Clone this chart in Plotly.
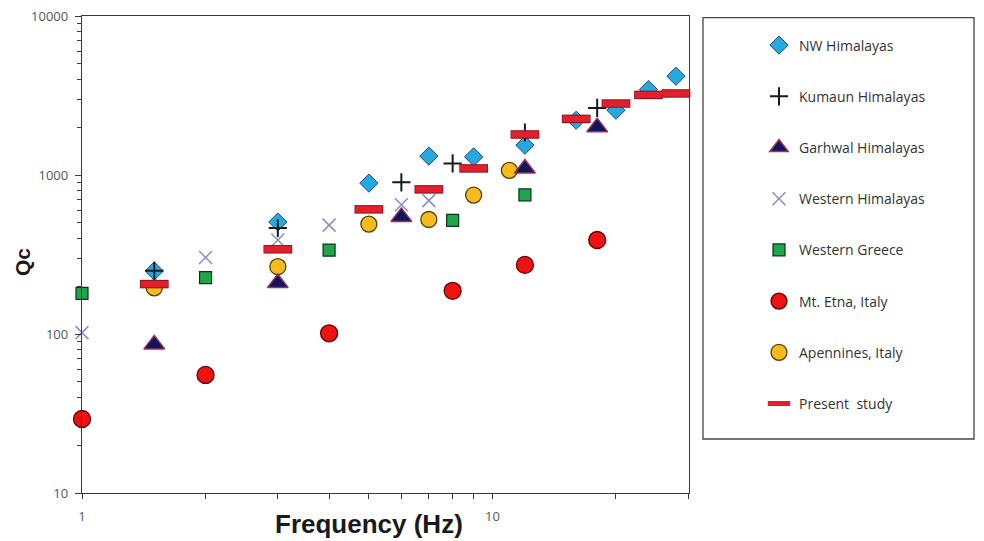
import plotly.graph_objects as go

# ---------------- data ----------------
nw_f = [1.5, 3, 5, 7, 9, 12, 16, 20, 24, 28]
nw_q = [249, 506, 889, 1314, 1300, 1540, 2210, 2555, 3450, 4180]

kum_f = [1.5, 3, 6, 8, 12, 18]
kum_q = [250, 464, 899, 1183, 1850, 2643]

gar_f = [1.5, 3, 6, 12, 18]
gar_q = [86, 209, 545, 1100, 2000]

wh_f = [1, 2, 3, 4, 6, 7]
wh_q = [102, 303, 390, 484, 650, 690]

gr_f = [1, 2, 4, 8, 12]
gr_q = [180, 226, 337, 518, 750]

etna_f = [1, 2, 4, 8, 12, 18]
etna_q = [29.2, 55.3, 101, 187, 272, 390]

ap_f = [1.5, 3, 5, 7, 9, 11]
ap_q = [195, 265, 491, 525, 748, 1070]

ps_f = [1.5, 3, 5, 7, 9, 12, 16, 20, 24, 28]
ps_q = [206, 341, 608, 812, 1100, 1798, 2254, 2815, 3190, 3258]

x_major = [1, 10]
x_major_text = ["1", "10"]
x_minor = [2, 3, 4, 5, 6, 7, 8, 9, 20, 30]
y_major = [10, 100, 1000, 10000]
y_major_text = ["10", "100", "1000", "10000"]
y_minor = [m * d for d in (10, 100, 1000) for m in range(2, 10)]

# ---------------- geometry helpers (page px -> paper) ----------------
# The page body has an 8px margin; the figure is sized to fit inside it.
W, H = 976, 533
ML, MR, MT, MB = 74, 295, 8, 48
PW, PH = W - ML - MR, H - MT - MB


def px(xp):
    return (xp - 8 - ML) / PW


def py(yp):
    return (H - MB - (yp - 8)) / PH


fig = go.Figure()


def add(name, xs, ys, marker, rank, showlegend=True):
    fig.add_trace(go.Scatter(
        x=xs, y=ys, mode="markers", name=name, marker=marker,
        legendgroup=name, legendrank=rank, showlegend=showlegend,
        cliponaxis=False,
    ))


add("NW Himalayas", nw_f, nw_q,
    dict(symbol="diamond", size=14, color="#25A9E2",
         line=dict(color="#1B4A6B", width=1)), 1)
add("Kumaun Himalayas", kum_f, kum_q,
    dict(symbol="cross-thin", size=13, color="#1a1a1a",
         line=dict(color="#1a1a1a", width=2)), 2)
add("Apennines, Italy", ap_f, ap_q,
    dict(symbol="circle", size=16, color="#F7BC1C",
         line=dict(color="#4F3F0C", width=1.3)), 7)
add("Garhwal Himalayas", gar_f, gar_q,
    dict(symbol="triangle-up", size=18, color="#10165A",
         line=dict(color="#9C2F5C", width=1.5)), 3)
add("Western Himalayas", wh_f, wh_q,
    dict(symbol="x-thin", size=13, color="#8C8CC6",
         line=dict(color="#8C8CC6", width=1.5)), 4)
add("Western Greece", gr_f, gr_q,
    dict(symbol="square", size=12, color="#1FA54B",
         line=dict(color="#0B3318", width=1.2)), 5)
add("Mt. Etna, Italy", etna_f, etna_q,
    dict(symbol="circle", size=17, color="#EE1212",
         line=dict(color="#5E0000", width=1.3)), 6)
# dark outline under present-study bars
add("Present study outline", ps_f, ps_q,
    dict(symbol="line-ew", size=20.5, color="#8A1020",
         line=dict(color="#8A1020", width=8.5)), 9, showlegend=False)
add("Present  study", ps_f, ps_q,
    dict(symbol="line-ew", size=19.5, color="#E2202C",
         line=dict(color="#E2202C", width=6.5)), 8)

axis_line = "#3a3a3a"
tick_font = dict(family="Open Sans", size=13, color="#555555")

fig.update_xaxes(
    type="log", range=[0, 1.479], automargin=False,
    tickmode="array", tickvals=x_major, ticktext=x_major_text,
    ticks="outside", ticklen=5, tickwidth=1.2, tickcolor=axis_line,
    minor=dict(tickmode="array", tickvals=x_minor, ticks="outside",
               ticklen=5, tickwidth=1.2, tickcolor=axis_line, showgrid=False),
    showline=True, linecolor=axis_line, linewidth=1.4, mirror=True,
    showgrid=False, zeroline=False, tickfont=tick_font,
    ticklabelstandoff=6, ticklabeloverflow="allow",
)
fig.update_yaxes(
    type="log", range=[1, 4], automargin=False,
    tickmode="array", tickvals=y_major, ticktext=y_major_text,
    ticks="outside", ticklen=6, tickwidth=1.2, tickcolor=axis_line,
    minor=dict(tickmode="array", tickvals=y_minor, ticks="outside",
               ticklen=4, tickwidth=1.2, tickcolor=axis_line, showgrid=False),
    showline=True, linecolor=axis_line, linewidth=1.4, mirror=True,
    showgrid=False, zeroline=False, tickfont=tick_font,
    ticklabelstandoff=4, ticklabeloverflow="allow",
)

fig.add_annotation(
    text="<b>Frequency (Hz)</b>", xref="paper", yref="paper",
    x=px(368.5), y=py(523.5),
    xanchor="center", yanchor="middle", showarrow=False,
    font=dict(family="Liberation Sans", size=26, color="#1a1a1a"),
)
fig.add_annotation(
    text="<b>Qc</b>", xref="paper", yref="paper",
    x=px(22), y=py(262),
    xanchor="center", yanchor="middle", showarrow=False, textangle=-90,
    font=dict(family="Liberation Sans", size=21, color="#1a1a1a"),
)

# legend frame
fig.add_shape(
    type="rect", xref="paper", yref="paper",
    x0=px(703), x1=px(974), y0=py(439), y1=py(17.7),
    line=dict(color="#444444", width=1.3), fillcolor="rgba(0,0,0,0)",
)

fig.update_layout(
    width=W, height=H,
    margin=dict(l=ML, r=MR, t=MT, b=MB, autoexpand=False),
    paper_bgcolor="white", plot_bgcolor="white",
    showlegend=True,
    legend=dict(
        x=px(759), xanchor="left",
        y=py(29.5), yanchor="top",
        bgcolor="rgba(0,0,0,0)", borderwidth=0,
        tracegroupgap=30,
        font=dict(family="Open Sans", size=14, color="#333333"),
        itemsizing="trace",
    ),
)

fig.write_html("out.html")
